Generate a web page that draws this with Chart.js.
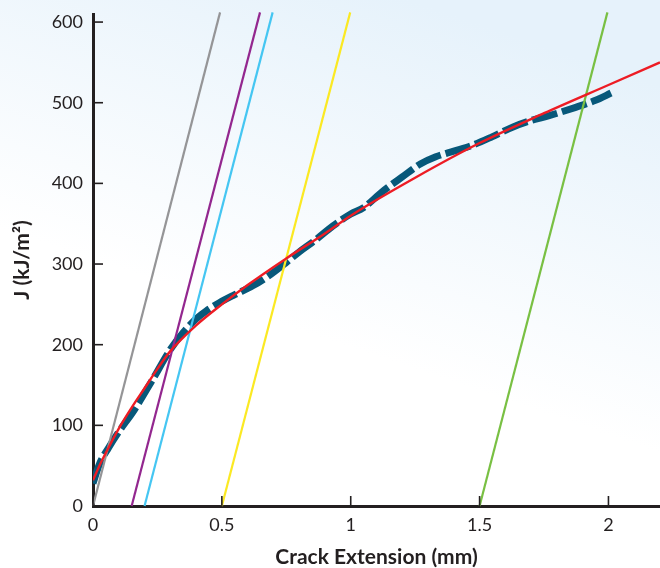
<!DOCTYPE html>
<html>
<head>
<meta charset="utf-8">
<script src="https://cdn.jsdelivr.net/npm/chart.js@4.4.1/dist/chart.umd.min.js"></script>
<style>
  html, body { margin: 0; padding: 0; background: #ffffff; }
  canvas { display: block; }
</style>
</head>
<body>
<canvas id="c" width="660" height="568"></canvas>
<script>
// ---- data ----
const xTicks = [0, 0.5, 1, 1.5, 2];
const yTicks = [0, 100, 200, 300, 400, 500, 600];

// power-law fit (red)
const fitX = [0, 0.025, 0.05, 0.1, 0.15, 0.2, 0.25, 0.3, 0.4, 0.5, 0.6, 0.75, 0.9, 1.0, 1.25, 1.5, 1.75, 2.0, 2.2];
const fitJ = [32, 50, 66, 96, 122, 146, 170, 192, 224, 250, 274, 307, 338, 360, 407, 450, 487, 522, 550];

// measured J-R curve (dashed)
const testX = [0, 0.025, 0.06, 0.1, 0.16, 0.23, 0.3, 0.35, 0.4, 0.44, 0.49, 0.55, 0.62, 0.68, 0.75, 0.8, 0.86, 0.93, 1.0, 1.05, 1.12, 1.2, 1.27, 1.33, 1.4, 1.47, 1.55, 1.63, 1.7, 1.77, 1.87, 1.95, 2.01];
const testJ = [28, 52, 72, 92, 119, 156, 194, 215, 232, 242, 252, 262, 273, 285, 302, 315, 329, 347, 362, 370, 389, 408, 424, 433, 440, 447, 458, 470, 478, 484, 494, 503, 512];

// blunting / offset lines: start at J=0, end at J=612
const offsetStartX = [0, 0.15, 0.2, 0.5, 1.5];
const offsetEndX = [0.493, 0.648, 0.697, 0.998, 1.996];
const offsetJ = [0, 612];

// ---- styles ----
const offsetColors = ['#959597', '#93278f', '#45c6f2', '#fbe923', '#79c043'];
const ink = '#231f20';

const offsetDatasets = offsetStartX.map((x0, i) => ({
  label: 'offset ' + i,
  data: [{x: x0, y: offsetJ[0]}, {x: offsetEndX[i], y: offsetJ[1]}],
  borderColor: offsetColors[i],
  borderWidth: 2.2,
  pointRadius: 0,
  tension: 0,
  clip: false,
  order: 1
}));

const bgPlugin = {
  id: 'bg',
  beforeDraw(chart) {
    const {ctx, width, height} = chart;
    const g = ctx.createLinearGradient(width * 0.62, 0, width * 0.45, height * 0.58);
    g.addColorStop(0, '#e6f2fb');
    g.addColorStop(1, '#ffffff');
    ctx.save();
    ctx.fillStyle = g;
    ctx.fillRect(0, 0, width, height);
    ctx.restore();
  }
};

const insideTicks = {
  id: 'insideTicks',
  afterDraw(chart) {
    const {ctx, chartArea, scales} = chart;
    const x = scales.x, y = scales.y;
    ctx.save();
    ctx.strokeStyle = ink;
    ctx.lineWidth = 1.6;
    x.ticks.forEach(t => {
      const px = x.getPixelForValue(t.value);
      ctx.beginPath();
      ctx.moveTo(px, chartArea.bottom);
      ctx.lineTo(px, chartArea.bottom - 10);
      ctx.stroke();
    });
    y.ticks.forEach(t => {
      const py = y.getPixelForValue(t.value);
      ctx.beginPath();
      ctx.moveTo(chartArea.left, py);
      ctx.lineTo(chartArea.left + 10, py);
      ctx.stroke();
    });
    ctx.restore();
  }
};

new Chart(document.getElementById('c'), {
  type: 'line',
  data: {
    datasets: [
      {
        label: 'Power-law fit',
        data: fitX.map((v, i) => ({x: v, y: fitJ[i]})),
        borderColor: '#ed1c24',
        borderWidth: 2.4,
        pointRadius: 0,
        cubicInterpolationMode: 'monotone',
        order: 0
      },
      ...offsetDatasets,
      {
        label: 'Test data',
        data: testX.map((v, i) => ({x: v, y: testJ[i]})),
        borderColor: '#07587a',
        borderWidth: 7,
        borderDash: [26, 5],
        borderCapStyle: 'butt',
        pointRadius: 0,
        cubicInterpolationMode: 'monotone',
        order: 2
      }
    ]
  },
  options: {
    responsive: false,
    animation: false,
    events: [],
    layout: { padding: { top: 14, right: 0, left: 0, bottom: 0 } },
    plugins: { legend: { display: false }, tooltip: { enabled: false } },
    scales: {
      x: {
        type: 'linear',
        min: 0,
        max: 2.2,
        afterBuildTicks(scale) { scale.ticks = xTicks.map(v => ({value: v})); },
        afterFit(scale) { scale.height = 62; scale.paddingLeft = 0; scale.paddingRight = 0; },
        grid: { display: false, drawTicks: false },
        border: { display: true, color: ink, width: 3 },
        ticks: {
          color: ink,
          padding: 8,
          maxRotation: 0,
          font: { family: 'Lato', size: 18 },
          callback: v => String(v)
        },
        title: {
          display: true,
          text: 'Crack Extension (mm)',
          color: ink,
          font: { family: 'Lato', size: 21, weight: 'bold', lineHeight: 1 },
          padding: { top: 0, bottom: 0 }
        }
      },
      y: {
        type: 'linear',
        min: 0,
        max: 610,
        afterBuildTicks(scale) { scale.ticks = yTicks.map(v => ({value: v})); },
        afterFit(scale) { scale.width = 93; scale.paddingTop = 0; scale.paddingBottom = 0; },
        grid: { display: false, drawTicks: false },
        border: { display: true, color: ink, width: 3 },
        ticks: {
          color: ink,
          padding: 10,
          font: { family: 'Lato', size: 18 },
          callback: v => String(v)
        },
        title: {
          display: true,
          text: 'J (kJ/m²)',
          color: ink,
          font: { family: 'Lato', size: 21, weight: 'bold', lineHeight: 1 },
          padding: { top: 12, bottom: 0 }
        }
      }
    }
  },
  plugins: [bgPlugin, insideTicks]
});
</script>
</body>
</html>
